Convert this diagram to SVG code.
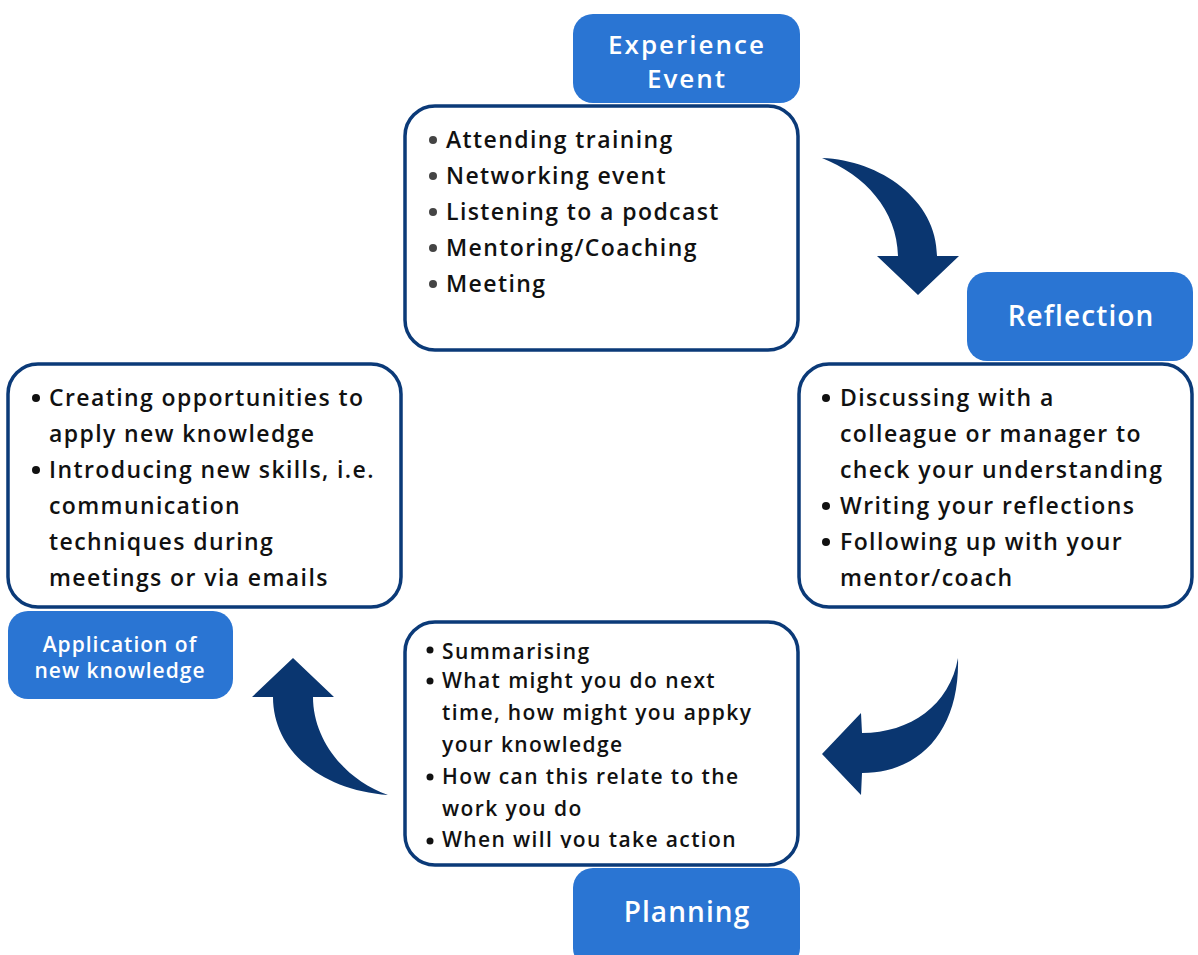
<svg xmlns="http://www.w3.org/2000/svg" width="1198" height="955" viewBox="0 0 1198 955">
<defs>
<style>
.lbl{fill:#2a75d3;}
.box{fill:#ffffff;stroke:#0b3a78;stroke-width:3.5;}
.lt{font-family:"Open Sans","Liberation Sans",sans-serif;font-weight:600;fill:#ffffff;text-anchor:middle;}
.bt{font-family:"Open Sans","Liberation Sans",sans-serif;font-weight:600;fill:#111111;font-size:23px;letter-spacing:1.4px;}
.st{font-family:"Open Sans","Liberation Sans",sans-serif;font-weight:600;fill:#111111;font-size:21px;letter-spacing:1.4px;}
.arr{fill:#0a3670;}
</style>
<clipPath id="clipPlan"><rect x="405" y="622" width="393" height="226"/></clipPath>
</defs>
<rect width="1198" height="955" fill="#ffffff"/>
<g id="connectors">
<path class="arr" d="M822,158 C880,160 937,200 937,256 L959,256 L918,295 L877,256 L898,256 C897,210 865,175 822,158 Z"/>
<path class="arr" d="M958,658 C960,730 920,773 862,773 L861,795 L822,754 L861,713 L862,733 C910,733 950,705 958,658 Z"/>
<path class="arr" d="M388,795 C320,790 273,750 273,697 L252,697 L293,658 L334,697 L313,697 C313,740 345,780 388,795 Z"/>
</g>
<g id="experience-label">
<rect class="lbl" x="573" y="14" width="227" height="89" rx="20"/>
<text class="lt" x="687" y="54" font-size="26" letter-spacing="2">Experience</text>
<text class="lt" x="687" y="88" font-size="26" letter-spacing="2">Event</text>
</g>
<g id="experience-box">
<rect class="box" x="405" y="106" width="393" height="244" rx="30"/>
<g fill="#444444">
<circle cx="433" cy="140" r="4"/><circle cx="433" cy="176" r="4"/><circle cx="433" cy="212" r="4"/><circle cx="433" cy="248" r="4"/><circle cx="433" cy="284" r="4"/>
</g>
<text class="bt" x="446" y="148">Attending training</text>
<text class="bt" x="446" y="184">Networking event</text>
<text class="bt" x="446" y="220">Listening to a podcast</text>
<text class="bt" x="446" y="256">Mentoring/Coaching</text>
<text class="bt" x="446" y="292">Meeting</text>
</g>
<g id="reflection-label">
<rect class="lbl" x="967" y="272" width="226" height="89" rx="20"/>
<text class="lt" x="1081" y="326" font-size="28" letter-spacing="1.1">Reflection</text>
</g>
<g id="reflection-box">
<rect class="box" x="799" y="364" width="393" height="243" rx="30"/>
<g fill="#111111">
<circle cx="826" cy="398" r="4"/><circle cx="826" cy="506" r="4"/><circle cx="826" cy="542" r="4"/>
</g>
<text class="bt" x="840" y="406">Discussing with a</text>
<text class="bt" x="840" y="442">colleague or manager to</text>
<text class="bt" x="840" y="478">check your understanding</text>
<text class="bt" x="840" y="514">Writing your reflections</text>
<text class="bt" x="840" y="550">Following up with your</text>
<text class="bt" x="840" y="586">mentor/coach</text>
</g>
<g id="application-box">
<rect class="box" x="8" y="364" width="393" height="243" rx="30"/>
<g fill="#111111">
<circle cx="36" cy="398" r="4"/><circle cx="36" cy="470" r="4"/>
</g>
<text class="bt" x="49" y="406">Creating opportunities to</text>
<text class="bt" x="49" y="442">apply new knowledge</text>
<text class="bt" x="49" y="478">Introducing new skills, i.e.</text>
<text class="bt" x="49" y="514">communication</text>
<text class="bt" x="49" y="550">techniques during</text>
<text class="bt" x="49" y="586">meetings or via emails</text>
</g>
<g id="application-label">
<rect class="lbl" x="8" y="611" width="225" height="88" rx="20"/>
<text class="lt" x="120" y="652" font-size="21" letter-spacing="1">Application of</text>
<text class="lt" x="120" y="678" font-size="21" letter-spacing="1">new knowledge</text>
</g>
<g id="planning-box">
<rect class="box" x="405" y="622" width="393" height="243" rx="30"/>
<g fill="#111111">
<circle cx="430" cy="650" r="3.5"/><circle cx="430" cy="681" r="3.5"/><circle cx="430" cy="777" r="3.5"/><circle cx="430" cy="841" r="3.5"/>
</g>
<g clip-path="url(#clipPlan)">
<text class="st" x="442" y="659">Summarising</text>
<text class="st" x="442" y="688">What might you do next</text>
<text class="st" x="442" y="720">time, how might you appky</text>
<text class="st" x="442" y="752">your knowledge</text>
<text class="st" x="442" y="784">How can this relate to the</text>
<text class="st" x="442" y="816">work you do</text>
<text class="st" x="442" y="847">When will you take action</text>
</g>
</g>
<g id="planning-label">
<rect class="lbl" x="573" y="868" width="227" height="100" rx="20"/>
<text class="lt" x="687" y="922" font-size="28" letter-spacing="1.1">Planning</text>
</g>
</svg>
